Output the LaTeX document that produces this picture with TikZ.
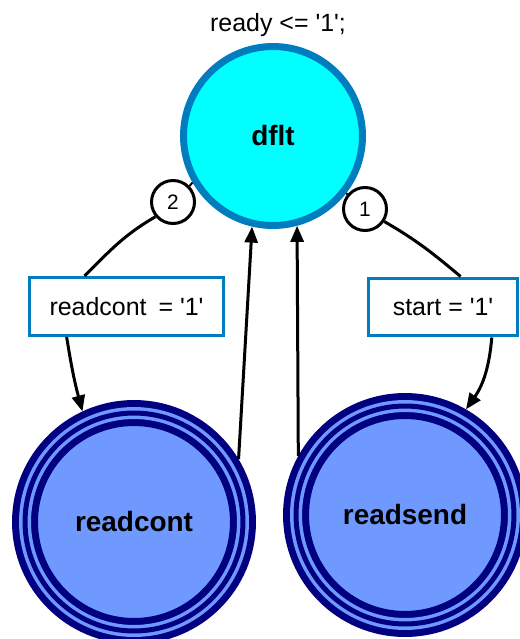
\documentclass[tikz,border=0pt]{standalone}
\usepackage{fontspec}
\setmainfont{Liberation Sans}
\usetikzlibrary{arrows.meta}
\definecolor{statecyan}{RGB}{0,255,255}
\definecolor{stateline}{RGB}{0,125,190}
\definecolor{finalfill}{RGB}{112,153,255}
\definecolor{finalline}{RGB}{0,0,128}
\newcommand{\squote}{\textquotesingle}

\begin{document}
\begin{tikzpicture}[x=0.02cm,y=0.02cm,
  every node/.style={font=\fontsize{14.2}{17}\selectfont},
  state/.style={circle,draw=stateline,fill=statecyan,line width=0.14cm,minimum size=3.58cm,inner sep=0pt,font=\fontsize{15.9}{19}\selectfont\bfseries},
  final/.style={circle,draw=finalline,fill=finalfill,line width=0.52cm,minimum size=4.36cm,inner sep=0pt,font=\fontsize{15.9}{19}\selectfont\bfseries,
    postaction={draw=finalfill,line width=0.24cm},postaction={draw=finalline,line width=0.1cm}},
  cond/.style={rectangle,draw=stateline,fill=white,line width=0.06cm,minimum height=1.16cm,inner sep=0pt},
  prio/.style={circle,draw,line width=0.06cm,minimum size=0.86cm,inner sep=0pt,font=\fontsize{11.9}{14}\selectfont},
  link/.style={line width=0.06cm},
  trans/.style={link,-{Triangle[length=0.32cm,width=0.26cm]}}]
  \useasboundingbox (0,0) rectangle (520,-639);
  \clip (0,0) rectangle (520,-639);
  %top
  \node[state] (dflt) at (273,-136) {dflt};
  \node (act) at (278,-25) {ready <= \squote1\squote;};
  %bottom
  \node[final] (rc) at (134,-522) {readcont};
  \node[final] (rs) at (405,-515) {readsend};
  %conditions
  \node[cond,minimum width=3.88cm] (b1) at (126.5,-306.5) {readcont\hspace{.2em} = \squote1\squote};
  \node[cond,minimum width=2.98cm] (b2) at (443,-307) {start = \squote1\squote};
  \node[prio] (n2) at (173,-202) {2};
  \node[prio] (n1) at (365,-209) {1};
  %left
  \draw[line width=0.04cm] (dflt.210) -- (n2.44);
  \draw[link] (n2.220) to[out=210,in=45] (b1.144);
  \draw[trans] (b1.207) to[out=279,in=105] (rc.115);
  %right
  \draw[line width=0.04cm] (dflt.322) -- (n1.140);
  \draw[link] (n1.327) to[out=330,in=140] (b2.60);
  \draw[trans] (b2.328) to[out=265,in=55] (rs.60);
  %back
  \draw[trans] (rc.31) -- (dflt.257);
  \draw[trans] (rs.151) -- (dflt.285);
\end{tikzpicture}
\end{document}
